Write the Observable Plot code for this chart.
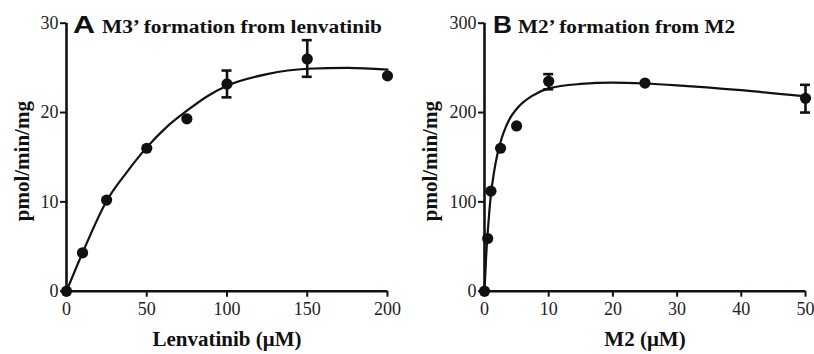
<!DOCTYPE html>
<html><head><meta charset="utf-8">
<script src="https://cdn.jsdelivr.net/npm/d3@7"></script>
<script src="https://cdn.jsdelivr.net/npm/@observablehq/plot@0.6"></script>
<style>
body{margin:0;background:#fff;}
#wrap{position:relative;width:814px;height:354px;display:flex;overflow:hidden;}
.panel{position:relative;width:407px;height:354px;}
.panel svg{overflow:visible;font-family:"Liberation Serif","Times New Roman",serif;}
.ttl{position:absolute;white-space:nowrap;color:#111;line-height:1;transform-origin:0 0;}
.let{font:bold 23px "Liberation Sans",Arial,sans-serif;}
.sub{font:bold 18px "Liberation Serif","Times New Roman",serif;}
</style></head><body>
<div id="wrap"></div>
<script>
// Panel A: M3' formation from lenvatinib
const aTitleLetter = "A";
const aTitle = "M3\u2019 formation from lenvatinib";
const aXLabel = "Lenvatinib (\u03bcM)";
const aXTicks = [0, 50, 100, 150, 200];
const aYTicks = [0, 10, 20, 30];
const aConc = [0, 10, 25, 50, 75, 100, 150, 200];
const aRate = [0, 4.3, 10.2, 16.0, 19.3, 23.2, 26.0, 24.1];
const aErrConc = [100, 150];
const aErrLow = [21.7, 24.0];
const aErrHigh = [24.7, 28.1];
const aFitConc = [0, 10, 25, 37.5, 50, 62.5, 75, 87.5, 100, 125, 150, 175, 200];
const aFitRate = [0, 4.3, 10.1, 13.3, 16.1, 18.4, 20.2, 21.8, 23.0, 24.3, 24.9, 25.0, 24.8];

// Panel B: M2' formation from M2
const bTitleLetter = "B";
const bTitle = "M2\u2019 formation from M2";
const bXLabel = "M2 (\u03bcM)";
const bXTicks = [0, 10, 20, 30, 40, 50];
const bYTicks = [0, 100, 200, 300];
const bConc = [0, 0.5, 1, 2.5, 5, 10, 25, 50];
const bRate = [0, 59, 112, 160, 185, 235, 233, 216];
const bErrConc = [10, 50];
const bErrLow = [226, 200];
const bErrHigh = [243, 231];
const bFitConc = [0, 0.25, 0.5, 0.75, 1, 1.5, 2, 2.5, 3, 4, 5, 7.5, 10, 15, 20, 25, 30, 40, 50];
const bFitRate = [0, 38, 66, 89, 108, 134, 153, 167, 178, 194, 204, 219, 227, 232, 233.5, 232.5, 230.5, 225, 218];

const yLabel = "pmol/min/mg";
const ink = "#111";
const serif = '"Liberation Serif","Times New Roman",serif';

function panel(cfg) {
  const pts = cfg.conc.map((x, i) => ({x, y: cfg.rate[i]}));
  const fit = cfg.fitConc.map((x, i) => ({x, y: cfg.fitRate[i]}));
  const err = cfg.errConc.map((x, i) => ({x, lo: cfg.errLow[i], hi: cfg.errHigh[i]}));
  return Plot.plot({
    width: 407, height: 354,
    marginLeft: cfg.ml, marginRight: cfg.mr, marginTop: 22.7, marginBottom: 63.3,
    style: `font-family: ${serif}; background: white; color: ${ink}; overflow: visible;`,
    x: {domain: cfg.xDomain},
    y: {domain: cfg.yDomain},
    marks: [
      Plot.axisY({ticks: cfg.yTicks, tickSize: 6, tickPadding: 2, fontSize: 18, fontFamily: serif, strokeWidth: 2, tickFormat: d => String(d), label: null, fill: "#222"}),
      Plot.axisX({ticks: cfg.xTicks, tickSize: 6, tickPadding: 5, fontSize: 18, fontFamily: serif, strokeWidth: 2, tickFormat: d => String(d), label: null, fill: "#222"}),
      Plot.ruleX([cfg.xDomain[0]], {stroke: ink, strokeWidth: 2.6}),
      Plot.ruleY([cfg.yDomain[0]], {stroke: ink, strokeWidth: 2.6}),
      Plot.line(fit, {x: "x", y: "y", curve: "monotone-x", stroke: ink, strokeWidth: 2.2}),
      Plot.ruleX(err, {x: "x", y1: "lo", y2: "hi", stroke: ink, strokeWidth: 2.6}),
      Plot.ruleY(err, {y: "lo", x1: "x", x2: "x", insetLeft: -5, insetRight: -5, stroke: ink, strokeWidth: 2.6}),
      Plot.ruleY(err, {y: "hi", x1: "x", x2: "x", insetLeft: -5, insetRight: -5, stroke: ink, strokeWidth: 2.6}),
      Plot.dot(pts, {x: "x", y: "y", r: 5.6, fill: ink, stroke: "none"}),
      Plot.text([cfg.xLabel], {frameAnchor: "bottom", dy: 55, lineAnchor: "bottom", fontSize: 21, fontFamily: serif, fontWeight: "bold", fill: ink}),
      Plot.text([yLabel], {frameAnchor: "left", dx: cfg.yLabelDx, dy: 4, rotate: -90, lineAnchor: "middle", textAnchor: "middle", fontSize: 21, fontFamily: serif, fontWeight: "bold", fill: ink})
    ]
  });
}

const wrap = document.getElementById("wrap");
const panels = [
  {letter: aTitleLetter, title: aTitle, conc: aConc, rate: aRate, errConc: aErrConc, errLow: aErrLow, errHigh: aErrHigh,
   fitConc: aFitConc, fitRate: aFitRate, xTicks: aXTicks, yTicks: aYTicks, xDomain: [0, 200], yDomain: [0, 30],
   xLabel: aXLabel, ml: 66, mr: 20, yLabelDx: -44, letterPos: [73, 22], titlePos: [102, 280]},
  {letter: bTitleLetter, title: bTitle, conc: bConc, rate: bRate, errConc: bErrConc, errLow: bErrLow, errHigh: bErrHigh,
   fitConc: bFitConc, fitRate: bFitRate, xTicks: bXTicks, yTicks: bYTicks, xDomain: [0, 50], yDomain: [0, 300],
   xLabel: bXLabel, ml: 77, mr: 9, yLabelDx: -54, letterPos: [86, 19], titlePos: [111, 217]}
];
for (const cfg of panels) {
  const div = document.createElement("div");
  div.className = "panel";
  div.appendChild(panel(cfg));
  const L = document.createElement("span");
  L.className = "ttl let"; L.textContent = cfg.letter;
  L.style.left = cfg.letterPos[0] + "px"; L.style.top = "12.2px";
  const T = document.createElement("span");
  T.className = "ttl sub"; T.textContent = cfg.title;
  T.style.left = cfg.titlePos[0] + "px"; T.style.top = "16.6px";
  div.appendChild(L); div.appendChild(T);
  wrap.appendChild(div);
  const lw = L.getBoundingClientRect().width;
  L.style.transform = `scaleX(${cfg.letterPos[1] / lw})`;
  const tw = T.getBoundingClientRect().width;
  T.style.transform = `scaleX(${cfg.titlePos[1] / tw})`;
}
</script>
</body></html>
